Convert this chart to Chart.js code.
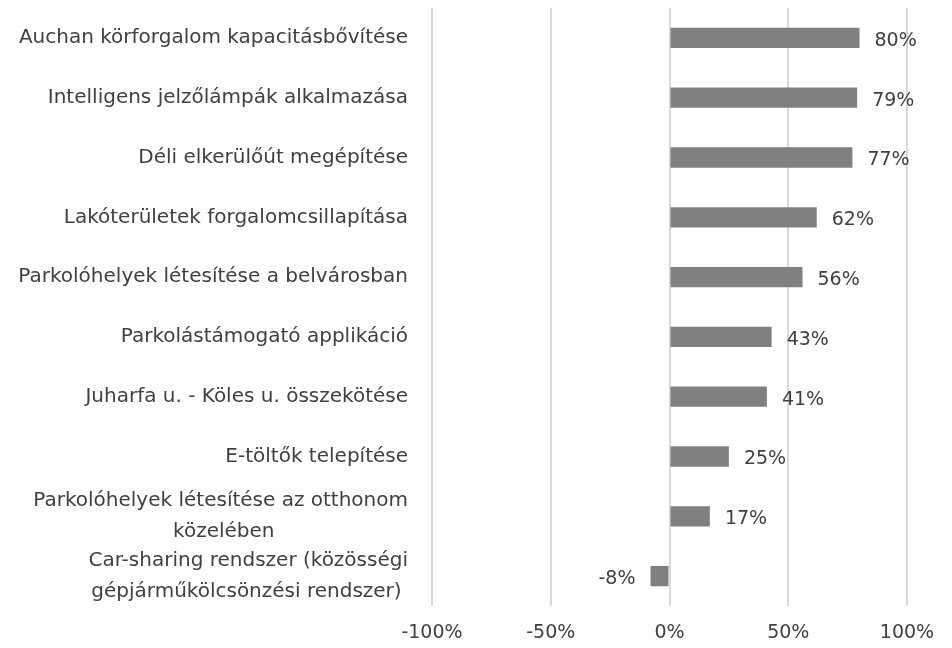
<!DOCTYPE html>
<html>
<head>
<meta charset="utf-8">
<script src="https://cdn.jsdelivr.net/npm/chart.js@4/dist/chart.umd.min.js"></script>
<style>
  html, body { margin: 0; padding: 0; background: #fff; }
  #wrap { width: 952px; height: 648px; }
</style>
</head>
<body>
<div id="wrap"><canvas id="chart"></canvas></div>
<script>
// Measures and their share of support (%)
const categories = [
  "Auchan körforgalom kapacitásbővítése",
  "Intelligens jelzőlámpák alkalmazása",
  "Déli elkerülőút megépítése",
  "Lakóterületek forgalomcsillapítása",
  "Parkolóhelyek létesítése a belvárosban",
  "Parkolástámogató applikáció",
  "Juharfa u. - Köles u. összekötése",
  "E-töltők telepítése",
  ["Parkolóhelyek létesítése az otthonom", "közelében"],
  ["Car-sharing rendszer (közösségi", "gépjárműkölcsönzési rendszer)"],
];
const values = [80, 79, 77, 62, 56, 43, 41, 25, 17, -8];
const xTicks = [-100, -50, 0, 50, 100];

const FONT = "'DejaVu Sans', sans-serif";
const TEXT = "#404040";
const LABEL_SIZE = 20;

// wrapped labels are centred line by line, so pad the shorter lines with spaces
const measure = document.createElement("canvas").getContext("2d");
function centreLines(label) {
  if (!Array.isArray(label)) return label;
  measure.font = LABEL_SIZE + "px " + FONT;
  const widths = label.map((l) => measure.measureText(l).width);
  const max = Math.max(...widths);
  const sp = measure.measureText("\u00a0").width;
  return label.map((l, i) => l + "\u00a0".repeat(Math.round((max - widths[i]) / 2 / sp)));
}

// draws the "80%" style labels next to each bar
const valueLabels = {
  id: "valueLabels",
  afterDatasetsDraw(chart) {
    const { ctx } = chart;
    const meta = chart.getDatasetMeta(0);
    ctx.save();
    ctx.font = "19px " + FONT;
    ctx.fillStyle = TEXT;
    ctx.textBaseline = "middle";
    meta.data.forEach((bar, i) => {
      const v = values[i];
      if (v >= 0) {
        ctx.textAlign = "left";
        ctx.fillText(v + "%", bar.x + 15, bar.y + 3);
      } else {
        ctx.textAlign = "right";
        ctx.fillText(v + "%", bar.x - 15, bar.y + 3);
      }
    });
    ctx.restore();
  },
};

new Chart(document.getElementById("chart"), {
  type: "bar",
  data: {
    labels: categories,
    datasets: [{
      data: values,
      backgroundColor: "#808080",
      borderWidth: 0,
      barPercentage: 0.34,
      categoryPercentage: 1,
    }],
  },
  options: {
    indexAxis: "y",
    responsive: true,
    maintainAspectRatio: false,
    animation: false,
    layout: { padding: { left: 0, right: 45, top: 8, bottom: 0 } },
    plugins: { legend: { display: false }, tooltip: { enabled: false } },
    scales: {
      x: {
        min: -100,
        max: 100,
        afterBuildTicks: (s) => { s.ticks = xTicks.map((v) => ({ value: v })); },
        afterFit: (s) => { s.height = 42; },
        grid: { color: "#d9d9d9", lineWidth: 2, drawTicks: false },
        border: { display: false },
        ticks: {
          color: TEXT,
          font: { family: FONT, size: 19 },
          padding: 16,
          callback: (v) => v + "%",
        },
      },
      y: {
        grid: { display: false },
        border: { display: false },
        afterFit: (s) => { s.width = 432; s.paddingTop = 0; s.paddingBottom = 0; },
        ticks: {
          color: TEXT,
          autoSkip: false,
          font: { family: FONT, size: LABEL_SIZE, lineHeight: 1.55 },
          padding: 16,
          callback: (v, i) => centreLines(categories[i]),
        },
      },
    },
  },
  plugins: [valueLabels],
});
</script>
</body>
</html>
